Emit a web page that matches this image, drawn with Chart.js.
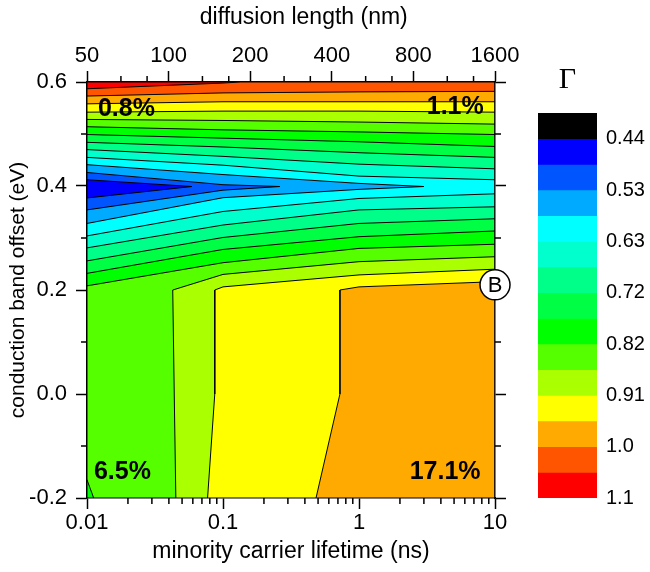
<!DOCTYPE html>
<html>
<head>
<meta charset="utf-8">
<script src="https://cdn.jsdelivr.net/npm/chart.js@4.4.0/dist/chart.umd.min.js"></script>
<style>
  html, body { margin: 0; padding: 0; background: #fff; }
  #wrap { position: relative; width: 650px; height: 572px; }
  #wrap canvas { position: absolute; left: 0; top: 0; }
</style>
</head>
<body>
<div id="wrap">
  <canvas id="main" width="650" height="572"></canvas>
  <canvas id="bar" width="650" height="572"></canvas>
</div>
<script>
'use strict';

/* ---------- axes ---------- */
const tauMin = 0.01, tauMax = 10;      // minority carrier lifetime (ns)
const cboMin = -0.2, cboMax = 0.6;     // conduction band offset (eV)
const lenMin = 50, lenMax = 1600;      // diffusion length (nm)
const tauTicks = [0.01, 0.1, 1, 10];
const tauMinor = [0.02, 0.03, 0.04, 0.05, 0.06, 0.07, 0.08, 0.09,
                  0.2, 0.3, 0.4, 0.5, 0.6, 0.7, 0.8, 0.9,
                  2, 3, 4, 5, 6, 7, 8, 9];
const lenTicks = [50, 100, 200, 400, 800, 1600];
const lenMinor = [66.7, 83.3, 133.3, 166.7, 266.7, 333.3, 533.3, 666.7, 1066.7, 1333.3];
const cboTicks = [-0.2, 0, 0.2, 0.4, 0.6];
const cboMinor = [-0.1, 0.1, 0.3, 0.5];

/* ---------- colour scale Γ (top of the bar -> bottom) ---------- */
const bandColors = ['#000000', '#0000ff', '#0055ff', '#00aaff', '#00ffff', '#00ffcc', '#00ff88',
                    '#00ff44', '#00ff00', '#55ff00', '#aaff00', '#ffff00', '#ffaa00', '#ff5500', '#ff0000'];
const gammaLabels = ['0.44', '0.53', '0.63', '0.72', '0.82', '0.91', '1.0', '1.1'];
const gammaLabelAt = [1, 3, 5, 7, 9, 11, 13, 15];

/* ---------- contour lines, [lifetime ns, offset eV] ---------- */
const tauGrid = [0.01, 0.1, 1, 10];
// upper family (top of plot down to the 0.4 eV valley)
const up13 = [[0.01, 0.587], [0.1, 0.598], [0.135, 0.6]];
const up12 = [0.573, 0.579, 0.581, 0.582];
const up11 = [0.558, 0.562, 0.562, 0.562];
const up10 = [0.542, 0.544, 0.544, 0.542];
const up9  = [0.528, 0.526, 0.523, 0.519];
const up8  = [0.514, 0.508, 0.504, 0.499];
const up7  = [0.499, 0.492, 0.485, 0.476];
const up6  = [0.484, 0.475, 0.464, 0.455];
const up5  = [0.470, 0.457, 0.442, 0.433];
const up4  = [0.455, 0.440, 0.419, 0.412];
const up3  = [[0.01, 0.441], [0.1, 0.422], [1, 0.405], [3.0, 0.399]];
const up2  = [[0.01, 0.426], [0.1, 0.4025], [0.262, 0.399]];
const up1  = [[0.01, 0.412], [0.059, 0.399]];
// lower family (valley down to the bottom)
const lo1  = [[0.01, 0.377], [0.059, 0.399]];
const lo2  = [[0.01, 0.354], [0.1, 0.392], [0.262, 0.399]];
const lo3  = [[0.01, 0.328], [0.1, 0.3775], [1, 0.3935], [3.0, 0.399]];
const lo4  = [0.304, 0.351, 0.376, 0.385];
const lo5  = [0.281, 0.325, 0.354, 0.360];
const lo6  = [0.256, 0.301, 0.328, 0.337];
const lo7  = [0.232, 0.278, 0.3025, 0.3135];
const lo8  = [0.208, 0.2525, 0.280, 0.288];
const lo8c = [[0.01, -0.165], [0.0112, -0.2]];
const lo9  = [[0.045, -0.2], [0.0438, 0.0], [0.0427, 0.2], [0.1, 0.230], [1, 0.2545], [10, 0.264]];
const lo10 = [[0.077, -0.2], [0.087, 0.0], [0.087, 0.2], [0.1, 0.206], [1, 0.229], [10, 0.240]];
const lo11 = [[0.483, -0.2], [0.724, 0.0], [0.724, 0.2], [1, 0.206], [10, 0.216]];

/* ---------- annotations ---------- */
const notes = [
    { x: 0.0195, y: 0.547, text: '0.8%' },
    { x: 5.1, y: 0.552, text: '1.1%' },
    { x: 0.0182, y: -0.15, text: '6.5%' },
    { x: 4.3, y: -0.15, text: '17.1%' }
];
const markB = { x: 10, y: 0.21, text: 'B' };

/* ---------- build the filled regions (Γ <= level, nested) ---------- */
const onGrid = ys => ys.map((y, i) => [tauGrid[i], y]);
const rev = a => a.slice().reverse();
const BL = [tauMin, cboMin], BR = [tauMax, cboMin], TR = [tauMax, cboMax], TL = [tauMin, cboMax];

const regions = [
    [1, [...up1, ...rev(lo1)]],
    [2, [...up2, ...rev(lo2)]],
    [3, [...up3, ...rev(lo3)]],
    [4, [...onGrid(up4), ...rev(onGrid(lo4))]],
    [5, [...onGrid(up5), ...rev(onGrid(lo5))]],
    [6, [...onGrid(up6), ...rev(onGrid(lo6))]],
    [7, [...onGrid(up7), ...rev(onGrid(lo7))]],
    [8, [...onGrid(up8), ...rev(onGrid(lo8))]],
    [8, [...lo8c, BL]],
    [9, [...onGrid(up9), ...rev(lo9), BL]],
    [10, [...onGrid(up10), ...rev(lo10), BL]],
    [11, [...onGrid(up11), ...rev(lo11), BL]],
    [12, [...onGrid(up12), BR, BL]],
    [13, [...up13, TR, BR, BL]],
    [14, [TL, TR, BR, BL]]
];

const datasets = regions.map(([c, pts]) => ({
    data: [...pts, pts[0]].map(([x, y]) => ({ x, y })),
    backgroundColor: bandColors[c],
    borderColor: '#000',
    borderWidth: 1,
    fill: 'shape',
    pointRadius: 0,
    tension: 0
}));

Chart.defaults.font.family = "'Liberation Sans', Arial, sans-serif";
Chart.defaults.color = '#000';

const tickFont = { size: 22 };
const titleFont = { size: 23 };
const frame = { display: true, color: '#000', width: 1.5 };
const majorGrid = { drawOnChartArea: false, tickLength: 11, tickWidth: 1.5, tickColor: '#000' };

/* minor ticks, text and marker drawn through the chart scales */
const overlay = {
    id: 'overlay',
    afterDraw(chart) {
        const { ctx, chartArea: a, scales } = chart;
        const { x, y, x2 } = scales;
        ctx.save();
        ctx.strokeStyle = '#000';
        ctx.lineWidth = 1.5;
        ctx.beginPath();
        tauMinor.forEach(v => {
            const p = x.getPixelForValue(v);
            ctx.moveTo(p, a.bottom); ctx.lineTo(p, a.bottom + 6);
        });
        lenMinor.forEach(v => {
            const p = x2.getPixelForValue(v);
            ctx.moveTo(p, a.top); ctx.lineTo(p, a.top - 6);
        });
        cboMinor.forEach(v => {
            const p = y.getPixelForValue(v);
            ctx.moveTo(a.left, p); ctx.lineTo(a.left - 6, p);
            ctx.moveTo(a.right, p); ctx.lineTo(a.right + 6, p);
        });
        ctx.stroke();

        ctx.fillStyle = '#000';
        ctx.font = "bold 25px 'Liberation Sans', Arial, sans-serif";
        ctx.textAlign = 'center';
        ctx.textBaseline = 'middle';
        notes.forEach(n => ctx.fillText(n.text, x.getPixelForValue(n.x), y.getPixelForValue(n.y)));

        const bx = x.getPixelForValue(markB.x), by = y.getPixelForValue(markB.y);
        ctx.beginPath();
        ctx.arc(bx, by, 15, 0, Math.PI * 2);
        ctx.fillStyle = '#fff'; ctx.fill();
        ctx.lineWidth = 1.5; ctx.stroke();
        ctx.fillStyle = '#000';
        ctx.font = "22px 'Liberation Sans', Arial, sans-serif";
        ctx.fillText(markB.text, bx, by + 1);
        ctx.restore();
    }
};

new Chart(document.getElementById('main'), {
    type: 'line',
    data: { datasets },
    options: {
        responsive: false,
        animation: false,
        layout: { padding: 0 },
        plugins: { legend: { display: false }, tooltip: { enabled: false } },
        scales: {
            x: {
                type: 'logarithmic', position: 'bottom', min: tauMin, max: tauMax, z: 1,
                afterBuildTicks: s => { s.ticks = tauTicks.map(v => ({ value: v })); },
                afterFit: s => { s.height = 74; },
                ticks: { autoSkip: false, maxRotation: 0, padding: 1, font: tickFont, callback: v => String(v) },
                grid: majorGrid, border: frame,
                title: { display: true, text: 'minority carrier lifetime (ns)', font: titleFont, padding: { bottom: 7 } }
            },
            x2: {
                type: 'logarithmic', position: 'top', min: lenMin, max: lenMax, z: 1,
                afterBuildTicks: s => { s.ticks = lenTicks.map(v => ({ value: v })); },
                afterFit: s => { s.height = 82; },
                ticks: { autoSkip: false, maxRotation: 0, padding: 2, font: tickFont, callback: v => String(v) },
                grid: majorGrid, border: frame,
                title: {
                    display: true, text: '\u00a0\u00a0\u00a0\u00a0diffusion length (nm)',
                    font: titleFont, padding: { top: 4 }
                }
            },
            y: {
                type: 'linear', position: 'left', min: cboMin, max: cboMax, z: 1,
                afterBuildTicks: s => { s.ticks = cboTicks.map(v => ({ value: v })); },
                afterFit: s => { s.width = 87; },
                ticks: { padding: 9, font: tickFont, callback: v => v.toFixed(1) },
                grid: majorGrid, border: frame,
                title: { display: true, text: 'conduction band offset (eV)', font: { size: 21 }, padding: { top: 6 } }
            },
            y2: {
                type: 'linear', position: 'right', min: cboMin, max: cboMax, z: 1,
                afterBuildTicks: s => { s.ticks = cboTicks.map(v => ({ value: v })); },
                afterFit: s => { s.width = 155; },
                ticks: { display: false },
                grid: majorGrid, border: frame
            }
        }
    },
    plugins: [overlay]
});

/* ---------- colour bar ---------- */
const gammaTitle = {
    id: 'gammaTitle',
    afterDraw(chart) {
        const { ctx, chartArea: a } = chart;
        ctx.save();
        ctx.fillStyle = '#000';
        ctx.font = "30px 'Liberation Serif', 'Times New Roman', serif";
        ctx.textAlign = 'center';
        ctx.textBaseline = 'middle';
        ctx.fillText('Γ', (a.left + a.right) / 2, a.top - 33);
        ctx.restore();
    }
};

new Chart(document.getElementById('bar'), {
    type: 'bar',
    data: {
        labels: [''],
        datasets: bandColors.map(c => ({
            data: [1], backgroundColor: c, borderWidth: 0,
            barPercentage: 1, categoryPercentage: 1, stack: 'g'
        }))
    },
    options: {
        responsive: false,
        animation: false,
        layout: { padding: { left: 538, top: 113, bottom: 74, right: 0 } },
        plugins: { legend: { display: false }, tooltip: { enabled: false } },
        scales: {
            x: { display: false, stacked: true },
            y: {
                position: 'right', stacked: true, reverse: true, min: 0, max: 15,
                afterBuildTicks: s => { s.ticks = gammaLabelAt.map(v => ({ value: v })); },
                afterFit: s => { s.width = 53; },
                grid: { display: false, drawTicks: false },
                border: { display: false },
                ticks: { padding: 9, font: { size: 20 }, callback: v => gammaLabels[gammaLabelAt.indexOf(v)] }
            }
        }
    },
    plugins: [gammaTitle]
});
</script>
</body>
</html>
